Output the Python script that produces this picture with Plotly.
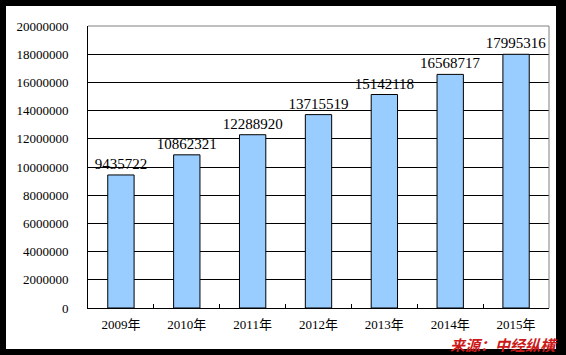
import plotly.graph_objects as go

W, H = 566, 355
years = ["2009年", "2010年", "2011年", "2012年", "2013年", "2014年", "2015年"]
values = [9435722, 10862321, 12288920, 13715519, 15142118, 16568717, 17995316]
y_ticks = list(range(0, 20000001, 2000000))

x0, x1, yt, yb = 88, 549, 26, 308

def px(x):
    return x / W

def py(y):
    return 1 - y / H

serif = "SimSun, 'Liberation Serif', 'Noto Sans CJK SC', serif"

fig = go.Figure(go.Bar(
    x=years, y=values, width=0.4,
    marker=dict(color="#99ccff", line=dict(color="black", width=1)),
    text=[str(v) for v in values], textposition="outside", constraintext="none",
    textfont=dict(family=serif, size=15, color="black"),
    cliponaxis=False,
))

fig.update_layout(
    width=W, height=H, margin=dict(l=0, r=0, t=0, b=0),
    paper_bgcolor="black", plot_bgcolor="white", showlegend=False,
    xaxis=dict(domain=[px(x0), px(x1)], showline=True, linecolor="black", linewidth=1,
               ticks="inside", tickson="boundaries", ticklen=4, tickcolor="black",
               tickfont=dict(family=serif, size=13, color="black"),
               ticklabelstandoff=4, automargin=False, showgrid=False),
    yaxis=dict(domain=[py(yb), py(yt)], range=[0, 20000000], tickvals=y_ticks,
               ticktext=[str(v) for v in y_ticks],
               showline=True, linecolor="black", linewidth=1,
               showgrid=True, gridcolor="black", gridwidth=1, zeroline=False,
               tickfont=dict(family=serif, size=13, color="black"),
               ticklabelstandoff=16, automargin=False),
    shapes=[
        dict(type="rect", xref="paper", yref="paper", x0=px(6), x1=px(556), y0=py(349), y1=py(6),
             fillcolor="white", line=dict(width=0), layer="below"),
        dict(type="line", xref="paper", yref="paper", x0=px(x0), x1=px(x1), y0=py(yt), y1=py(yt),
             line=dict(color="#808080", width=1), layer="above"),
        dict(type="line", xref="paper", yref="paper", x0=px(x1), x1=px(x1), y0=py(yt), y1=py(yb),
             line=dict(color="#808080", width=1), layer="above"),
    ],
    annotations=[dict(text="<b><i>来源：中经纵横</i></b>", xref="paper", yref="paper",
                      x=px(559), y=py(344), xanchor="right", yanchor="middle", showarrow=False,
                      height=16, borderpad=0,
                      font=dict(family="'Noto Sans CJK SC', sans-serif", size=15, color="#cc1a1a"))],
)

fig.write_html("out.html")
